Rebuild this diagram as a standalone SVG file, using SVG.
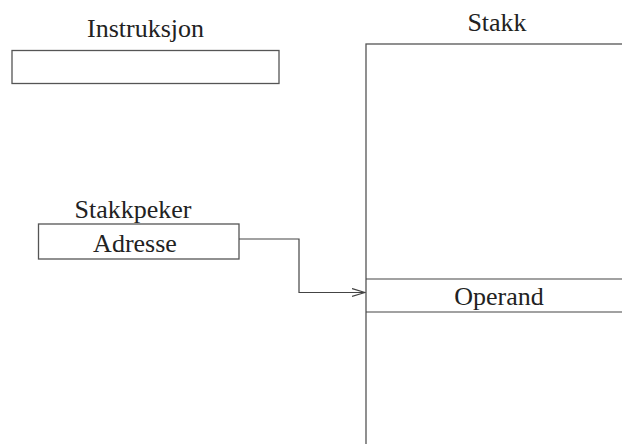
<svg xmlns="http://www.w3.org/2000/svg" width="622" height="444" viewBox="0 0 622 444">
<style>
.b{fill:#fff;stroke:#555;stroke-width:1.3}
.c{fill:none;stroke:#444;stroke-width:1.2}
</style>
<defs><marker id="a" markerWidth="14" markerHeight="10" refX="13" refY="5" orient="auto" markerUnits="userSpaceOnUse"><path d="M0,1 L13,5 L0,9" fill="none" stroke="#444" stroke-width="1.2"/></marker></defs>
<g font-family="Liberation Serif, Times New Roman, serif" font-size="26" fill="#222" text-anchor="middle">
<g id="instruksjon"><text x="145.5" y="37">Instruksjon</text><rect class="b" x="12" y="50.5" width="267" height="33"/></g>
<g id="stakk"><text x="497" y="31">Stakk</text><rect class="b" x="366" y="44" width="270" height="420"/></g>
<g id="operand"><path class="c" d="M366,279 H622 M366,312 H622"/><text x="499" y="305">Operand</text></g>
<g id="stakkpeker"><text x="133" y="218">Stakkpeker</text><rect class="b" x="38.5" y="224" width="200.5" height="35"/><text x="135" y="252">Adresse</text></g>
</g>
<g id="connectors"><path class="c" d="M239,239 H299 V292.5 H365" marker-end="url(#a)"/></g>
</svg>
